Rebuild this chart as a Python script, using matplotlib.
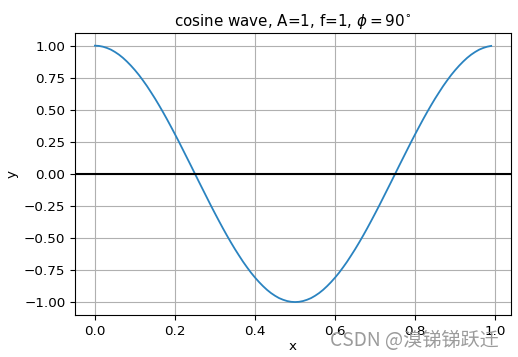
import matplotlib
matplotlib.use('Agg')
import matplotlib.pyplot as plt

# Samples (step 0.01)
x_vals = [
    0.00, 0.01, 0.02, 0.03, 0.04, 0.05, 0.06, 0.07, 0.08, 0.09,
    0.10, 0.11, 0.12, 0.13, 0.14, 0.15, 0.16, 0.17, 0.18, 0.19,
    0.20, 0.21, 0.22, 0.23, 0.24, 0.25, 0.26, 0.27, 0.28, 0.29,
    0.30, 0.31, 0.32, 0.33, 0.34, 0.35, 0.36, 0.37, 0.38, 0.39,
    0.40, 0.41, 0.42, 0.43, 0.44, 0.45, 0.46, 0.47, 0.48, 0.49,
    0.50, 0.51, 0.52, 0.53, 0.54, 0.55, 0.56, 0.57, 0.58, 0.59,
    0.60, 0.61, 0.62, 0.63, 0.64, 0.65, 0.66, 0.67, 0.68, 0.69,
    0.70, 0.71, 0.72, 0.73, 0.74, 0.75, 0.76, 0.77, 0.78, 0.79,
    0.80, 0.81, 0.82, 0.83, 0.84, 0.85, 0.86, 0.87, 0.88, 0.89,
    0.90, 0.91, 0.92, 0.93, 0.94, 0.95, 0.96, 0.97, 0.98, 0.99,
]
y_vals = [
    1.000, 0.998, 0.992, 0.982, 0.969, 0.951, 0.930, 0.905, 0.876, 0.844,
    0.809, 0.771, 0.729, 0.685, 0.637, 0.588, 0.536, 0.482, 0.426, 0.368,
    0.309, 0.249, 0.187, 0.125, 0.063, 0.000, -0.063, -0.125, -0.187, -0.249,
    -0.309, -0.368, -0.426, -0.482, -0.536, -0.588, -0.637, -0.685, -0.729, -0.771,
    -0.809, -0.844, -0.876, -0.905, -0.930, -0.951, -0.969, -0.982, -0.992, -0.998,
    -1.000, -0.998, -0.992, -0.982, -0.969, -0.951, -0.930, -0.905, -0.876, -0.844,
    -0.809, -0.771, -0.729, -0.685, -0.637, -0.588, -0.536, -0.482, -0.426, -0.368,
    -0.309, -0.249, -0.187, -0.125, -0.063, 0.000, 0.063, 0.125, 0.187, 0.249,
    0.309, 0.368, 0.426, 0.482, 0.536, 0.588, 0.637, 0.685, 0.729, 0.771,
    0.809, 0.844, 0.876, 0.905, 0.930, 0.951, 0.969, 0.982, 0.992, 0.998,
]

TITLE = r'cosine wave, A=1, f=1, $\phi = 90^{\circ}$'
WATERMARK = 'CSDN @溴锑锑跃迁'

FONT_SIZE = 9.7
TITLE_SIZE = 10.9

plt.rcParams['font.size'] = FONT_SIZE
plt.rcParams['mathtext.fontset'] = 'dejavusans'

fig = plt.figure(figsize=(5.18, 3.57), dpi=100)
ax = fig.add_axes([0.145, 0.118, 0.8415, 0.79])

ax.plot(x_vals, y_vals, color='#2a83c0', linewidth=1.3)
ax.axhline(0, color='black', linewidth=1.5)
ax.grid(True)
ax.set_title(TITLE, fontsize=TITLE_SIZE, pad=5)
ax.set_xlabel('x', labelpad=2)
ax.set_ylabel('y')

fig.text(0.637, 0.046, WATERMARK, color='#909090', fontsize=13.8, alpha=0.9,
         family=['Noto Sans CJK SC', 'DejaVu Sans'], va='center')

fig.savefig('out.png', dpi=100)
